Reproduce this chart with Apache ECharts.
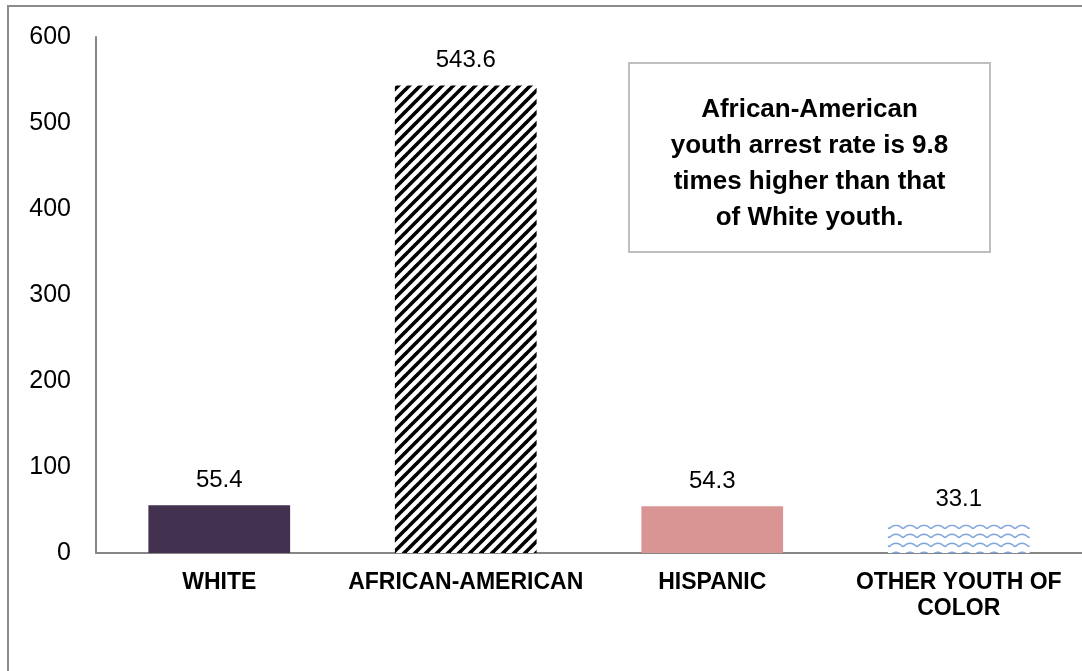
<!DOCTYPE html>
<html><head><meta charset="utf-8">
<script src="https://cdn.jsdelivr.net/npm/echarts@6/dist/echarts.min.js"></script>
<style>html,body{margin:0;padding:0;background:#fff}#c{width:1082px;height:671px}</style>
</head><body><div id="c"></div>
<script>
const categories = ['WHITE', 'AFRICAN-AMERICAN', 'HISPANIC', 'OTHER YOUTH OF\nCOLOR'];
const values = [55.4, 543.6, 54.3, 33.1];
const yTicks = [0, 100, 200, 300, 400, 500, 600];
const noteText = 'African-American\nyouth arrest rate is 9.8\ntimes higher than that\nof White youth.';

function stripePattern() {
  const s = 11, c = document.createElement('canvas');
  c.width = s; c.height = s;
  const g = c.getContext('2d');
  g.fillStyle = '#fff'; g.fillRect(0, 0, s, s);
  g.strokeStyle = '#000'; g.lineWidth = 3.6;
  for (let k = -1; k <= 1; k++) {
    g.beginPath(); g.moveTo(k * s - 1, s + 1); g.lineTo(k * s + s + 1, -1); g.stroke();
  }
  return c;
}
function wavePattern() {
  const w = 14, h = 9, c = document.createElement('canvas');
  c.width = w; c.height = h;
  const g = c.getContext('2d');
  g.fillStyle = '#fff'; g.fillRect(0, 0, w, h);
  g.strokeStyle = '#7ea6da'; g.lineWidth = 1.6;
  g.beginPath();
  g.moveTo(0, 3.2);
  g.quadraticCurveTo(w / 4, 3.2, w / 2, 6.8);
  g.moveTo(w / 2, 6.8);
  g.quadraticCurveTo(3 * w / 4, 3.2, w, 3.2);
  g.stroke();
  return c;
}
const patterns = [
  '#433150',
  { image: stripePattern(), repeat: 'repeat' },
  '#d99594',
  { image: wavePattern(), repeat: 'repeat' }
];

const chart = echarts.init(document.getElementById('c'), null, { renderer: 'canvas' });
chart.setOption({
  animation: false,
  backgroundColor: '#fff',
  grid: { left: 96, right: 0, top: 37, bottom: 118, containLabel: false },
  xAxis: {
    type: 'category', data: categories,
    axisLine: { lineStyle: { color: '#868686', width: 2 } },
    axisTick: { show: false },
    axisLabel: { color: '#000', fontFamily: 'Liberation Sans, Arial', fontWeight: 'bold', fontSize: 23, margin: 17, lineHeight: 26, interval: 0 }
  },
  yAxis: {
    type: 'value', min: 0, max: 600, interval: 100,
    axisLine: { show: true, lineStyle: { color: '#868686', width: 2 } },
    axisTick: { show: false },
    splitLine: { show: false },
    axisLabel: { color: '#000', fontFamily: 'Liberation Sans, Arial', fontSize: 25, margin: 25,
      formatter: v => yTicks.includes(v) ? String(v) : '' }
  },
  series: [{
    type: 'bar',
    data: values.map((v, i) => ({ value: v, itemStyle: { color: patterns[i] } })),
    barWidth: '57.5%',
    label: { show: true, position: 'top', distance: 13, color: '#000', fontFamily: 'Liberation Sans, Arial', fontSize: 24,
      formatter: p => p.value.toFixed(1) }
  }],
  graphic: [
    { type: 'polyline', shape: { points: [[8, 671], [8, 6], [1082, 6]] }, style: { stroke: '#8c8c8c', lineWidth: 2, fill: null } },
    { type: 'rect', shape: { x: 629, y: 63, width: 361, height: 189 }, style: { fill: '#fff', stroke: '#bfbfbf', lineWidth: 2 } },
    { type: 'text', x: 809.5, y: 164, style: { text: noteText, fill: '#000', font: 'bold 26px "Liberation Sans", Arial', lineHeight: 36, align: 'center', verticalAlign: 'middle' } }
  ]
});
</script></body></html>
